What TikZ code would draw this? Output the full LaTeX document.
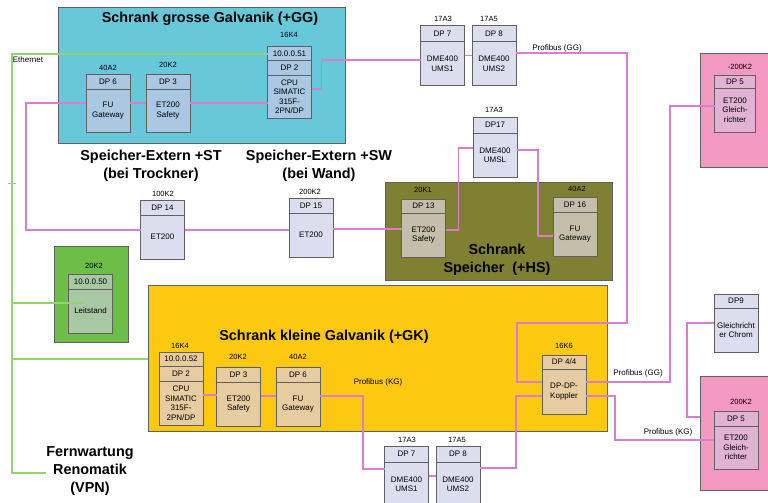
\documentclass[tikz,border=0pt]{standalone}
\usepackage{fontspec}
\setmainfont{Liberation Sans}
\usetikzlibrary{positioning}

\definecolor{ggcyan}{RGB}{103,200,218}
\definecolor{ggdev}{RGB}{170,200,226}
\definecolor{dmedev}{RGB}{221,221,240}
\definecolor{hsolive}{RGB}{128,128,50}
\definecolor{hsdev}{RGB}{196,191,170}
\definecolor{leitgreen}{RGB}{108,190,70}
\definecolor{leitdev}{RGB}{168,200,164}
\definecolor{gkyellow}{RGB}{252,201,16}
\definecolor{gkdev}{RGB}{230,204,160}
\definecolor{grpink}{RGB}{244,154,193}
\definecolor{grdev}{RGB}{226,178,212}
\definecolor{buspink}{RGB}{218,124,208}
\definecolor{ethgreen}{RGB}{146,212,112}
\definecolor{boxgray}{RGB}{96,96,96}

\begin{document}
\begin{tikzpicture}[x=1pt, y=-1pt,
    hd/.style={draw=boxgray, line width=1pt, minimum width=44pt, minimum height=15pt, inner sep=0pt, outer sep=0pt, font=\fontsize{8}{9.5}\selectfont},
    bd/.style={hd, minimum height=#1, align=center},
    cab/.style={draw=boxgray, line width=0.8pt, anchor=north west, inner sep=0pt, outer sep=0pt},
    tag/.style={font=\fontsize{7.5}{9}\selectfont, inner sep=0pt},
    lbl/.style={font=\fontsize{8}{9.5}\selectfont, inner sep=0pt},
    ttl/.style={font=\bfseries\fontsize{14.4}{18}\selectfont, align=center, inner sep=0pt},
    bus/.style={buspink, line width=1.2pt},
    eth/.style={ethgreen, line width=1.2pt}]

    \useasboundingbox (0,0) rectangle (768,503);
    \clip (0,0) rectangle (768,503);

    % Schraenke
    \node[cab, fill=ggcyan, minimum width=287pt, minimum height=136pt] (gg) at (58,7) {};
    \node[cab, fill=hsolive, minimum width=227pt, minimum height=98pt] (hs) at (385,182) {};
    \node[cab, fill=leitgreen, minimum width=74pt, minimum height=96pt] (leitcab) at (54,246) {};
    \node[cab, fill=gkyellow, minimum width=459pt, minimum height=146pt] (gk) at (148,285) {};
    \node[cab, fill=grpink, minimum width=80pt, minimum height=114pt] (gr1cab) at (700,53) {};
    \node[cab, fill=grpink, minimum width=80pt, minimum height=114pt] (gr2cab) at (700,376) {};

    \node[ttl] (ggtitle) at (210,19) {Schrank grosse Galvanik (+GG)};
    \node[ttl] (sttitle) at (151,166) {Speicher-Extern +ST\\(bei Trockner)};
    \node[ttl] (swtitle) at (319,166) {Speicher-Extern +SW\\(bei Wand)};
    \node[ttl] (hstitle) at (497,260) {Schrank\\Speicher~~(+HS)};
    \node[ttl] (gktitle) at (324,337) {Schrank kleine Galvanik (+GK)};
    \node[ttl] (fern) at (90,471) {Fernwartung\\Renomatik\\(VPN)};

    % Schrank grosse Galvanik
    \node[tag] (ggfutag) at (108,68) {40A2};
    \node[hd, fill=ggdev, anchor=north] (ggfuh) at (108,74) {DP 6};
    \node[bd=43pt, fill=ggdev, below=0pt of ggfuh] (ggfu) {FU\\Gateway};
    \node[tag] (ggsafetag) at (168,65) {20K2};
    \node[hd, fill=ggdev, anchor=north] (ggsafeh) at (168,74) {DP 3};
    \node[bd=43pt, fill=ggdev, below=0pt of ggsafeh] (ggsafe) {ET200\\Safety};
    \node[tag] (ggcputag) at (289,35) {16K4};
    \node[hd, fill=ggdev, anchor=north, minimum height=14pt] (ggip) at (289.5,47) {10.0.0.51};
    \node[hd, fill=ggdev, below=0pt of ggip, minimum height=14pt] (ggcpuh) {DP 2};
    \node[bd=43pt, fill=ggdev, below=0pt of ggcpuh] (ggcpu) {CPU\\SIMATIC\\315F-\\2PN/DP};

    % DME oben
    \node[tag] (ums1tag) at (443,19) {17A3};
    \node[hd, fill=dmedev, anchor=north, minimum height=16pt] (ums1h) at (442.5,26) {DP 7};
    \node[bd=43pt, fill=dmedev, below=0pt of ums1h] (ums1) {DME400\\UMS1};
    \node[tag] (ums2tag) at (489,19) {17A5};
    \node[hd, fill=dmedev, anchor=north, minimum height=16pt] (ums2h) at (494,26) {DP 8};
    \node[bd=43pt, fill=dmedev, below=0pt of ums2h] (ums2) {DME400\\UMS2};
    \node[tag] (umsltag) at (494,110) {17A3};
    \node[hd, fill=dmedev, anchor=north, minimum height=16pt] (umslh) at (495,117) {DP17};
    \node[bd=44pt, fill=dmedev, below=0pt of umslh] (umsl) {DME400\\UMSL};

    % Speicher-Extern
    \node[tag] (sttag) at (163,194) {100K2};
    \node[hd, fill=dmedev, anchor=north] (sth) at (162.5,200) {DP 14};
    \node[bd=44pt, fill=dmedev, below=0pt of sth] (st) {ET200};
    \node[tag] (swtag) at (310,192) {200K2};
    \node[hd, fill=dmedev, anchor=north] (swh) at (311,198) {DP 15};
    \node[bd=44pt, fill=dmedev, below=0pt of swh] (sw) {ET200};

    % Schrank Speicher
    \node[tag] (hssafetag) at (423,190) {20K1};
    \node[hd, fill=hsdev, anchor=north, minimum height=14pt] (hssafeh) at (423.5,199) {DP 13};
    \node[bd=44pt, fill=hsdev, below=0pt of hssafeh] (hssafe) {ET200\\Safety};
    \node[tag] (hsfutag) at (577,189) {40A2};
    \node[hd, fill=hsdev, anchor=north] (hsfuh) at (575,197) {DP 16};
    \node[bd=44pt, fill=hsdev, below=0pt of hsfuh] (hsfu) {FU\\Gateway};

    % Leitstand
    \node[tag] (leittag) at (94,266) {20K2};
    \node[hd, fill=leitdev, anchor=north] (leitip) at (90.5,274) {10.0.0.50};
    \node[bd=44pt, fill=leitdev, below=0pt of leitip] (leit) {Leitstand};

    % Schrank kleine Galvanik
    \node[tag] (kcputag) at (180,346) {16K4};
    \node[hd, fill=gkdev, anchor=north, minimum height=14pt] (kip) at (181,352) {10.0.0.52};
    \node[hd, fill=gkdev, below=0pt of kip] (kcpuh) {DP 2};
    \node[bd=44pt, fill=gkdev, below=0pt of kcpuh] (kcpu) {CPU\\SIMATIC\\315F-\\2PN/DP};
    \node[tag] (ksafetag) at (238,357) {20K2};
    \node[hd, fill=gkdev, anchor=north] (ksafeh) at (238.5,367) {DP 3};
    \node[bd=44pt, fill=gkdev, below=0pt of ksafeh] (ksafe) {ET200\\Safety};
    \node[tag] (kfutag) at (298,357) {40A2};
    \node[hd, fill=gkdev, anchor=north] (kfuh) at (298,367) {DP 6};
    \node[bd=44pt, fill=gkdev, below=0pt of kfuh] (kfu) {FU\\Gateway};
    \node[tag] (koptag) at (564,346) {16K6};
    \node[hd, fill=gkdev, anchor=north, minimum height=14pt] (koph) at (564,355) {DP 4/4};
    \node[bd=45pt, fill=gkdev, below=0pt of koph] (kop) {DP-DP-\\Koppler};

    % DME unten
    \node[tag] (kums1tag) at (407,440) {17A3};
    \node[hd, fill=dmedev, anchor=north, minimum height=16pt] (kums1h) at (406.5,446) {DP 7};
    \node[bd=44pt, fill=dmedev, below=0pt of kums1h] (kums1) {DME400\\UMS1};
    \node[tag] (kums2tag) at (457,440) {17A5};
    \node[hd, fill=dmedev, anchor=north, minimum height=16pt] (kums2h) at (458,446) {DP 8};
    \node[bd=44pt, fill=dmedev, below=0pt of kums2h] (kums2) {DME400\\UMS2};

    % Gleichrichter
    \node[tag] (gr1tag) at (740,67) {-200K2};
    \node[hd, fill=grdev, anchor=north, minimum width=41pt, minimum height=13pt] (gr1h) at (735,75) {DP 5};
    \node[bd=44pt, fill=grdev, below=0pt of gr1h, minimum width=41pt] (gr1) {ET200\\Gleich-\\richter};
    \node[hd, fill=dmedev, anchor=north, minimum height=14pt] (dp9h) at (736,294) {DP9};
    \node[bd=44pt, fill=dmedev, below=0pt of dp9h] (dp9) {Gleichricht\\er Chrom};
    \node[tag] (gr2tag) at (741,402) {200K2};
    \node[hd, fill=grdev, anchor=north] (gr2h) at (736,411) {DP 5};
    \node[bd=43pt, fill=grdev, below=0pt of gr2h] (gr2) {ET200\\Gleich-\\richter};

    % Ethernet
    \coordinate (ethtop) at (12,54);
    \coordinate (ethtick) at (12,183);
    \draw[eth] (ggip.west) -- (ethtop) |- ([yshift=-2pt]fern.west);
    \draw[gray!60, thin] ([xshift=-4pt]ethtick) -- ([xshift=4pt]ethtick);
    \draw[eth] ([yshift=8pt]leit.west -| ethtop) -- ([xshift=14pt, yshift=8pt]leit.west);
    \draw[eth] (kip.west -| ethtop) -- (kip.west -| gk.west);
    \node[lbl] (ethlbl) at (28,60) {Ethernet};

    % Profibus (GG)
    \draw[bus] ([yshift=7.5pt]ggfu.east) -- ([yshift=7.5pt]ggfu.east -| ggsafe.west);
    \draw[bus] ([yshift=7.5pt]ggsafe.east) -- ([yshift=7.5pt]ggsafe.east -| ggcpu.west);
    \draw[bus] ([yshift=7.5pt]ggcpu.east) -- ++(10,0) |- ([yshift=3.5pt]ums1.west);
    \draw[bus] ([yshift=8pt]ums1.east) -- ([yshift=8pt]ums1.east -| ums2.west);
    \draw[bus] ([yshift=10.5pt]ums2.east) -- (627,53) -- (627,323) -- (517,323) |- ([yshift=9.5pt]kop.west);
    \node[lbl, anchor=base] (gglbl1) at (557,51) {Profibus (GG)};
    \draw[bus] ([yshift=9.5pt]kop.east) -- (670,382) |- ([yshift=4pt]gr1.west);
    \node[lbl, anchor=base] (gglbl2) at (638,375) {Profibus (GG)};
    \draw[bus] ([yshift=7.5pt]ggfu.west) -- (26,103) |- ([yshift=7pt]st.west);
    \draw[bus] ([yshift=7pt]st.east) -- ([yshift=7pt]st.east -| sw.west);
    \draw[bus] ([yshift=6pt]sw.east) -- ([yshift=6pt]sw.east -| hssafe.west);
    \draw[bus] ([yshift=5pt]hssafe.east) -- ++(13,0) |- ([yshift=7pt]umsl.west);
    \draw[bus] ([yshift=5pt]umsl.east) -- ++(21,0) |- ([yshift=-2pt]hsfu.west);

    % Profibus (KG)
    \draw[bus] ([yshift=8pt]kcpu.east) -- ([yshift=8pt]kcpu.east -| ksafe.west);
    \draw[bus] ([yshift=8pt]ksafe.east) -- ([yshift=8pt]ksafe.east -| kfu.west);
    \draw[bus] ([yshift=8pt]kfu.east) -- (363,396) |- ([yshift=15pt]kums1.west);
    \node[lbl, anchor=base] (kglbl1) at (378,384) {Profibus (KG)};
    \draw[bus] ([yshift=8pt]kums1.east) -- ([yshift=8pt]kums1.east -| kums2.west);
    \draw[bus] ([yshift=16pt]kums2.east) -- (516,468) |- ([yshift=-4.5pt]kop.west);
    \draw[bus] ([yshift=-4.5pt]kop.east) -- (615,396) |- ([yshift=7.5pt]gr2.west);
    \node[lbl, anchor=base] (kglbl2) at (668,434) {Profibus (KG)};
    \draw[bus] ([yshift=7pt]dp9.west) -- (687,323) |- ([yshift=16pt]gr2cab.west);

\end{tikzpicture}
\end{document}
